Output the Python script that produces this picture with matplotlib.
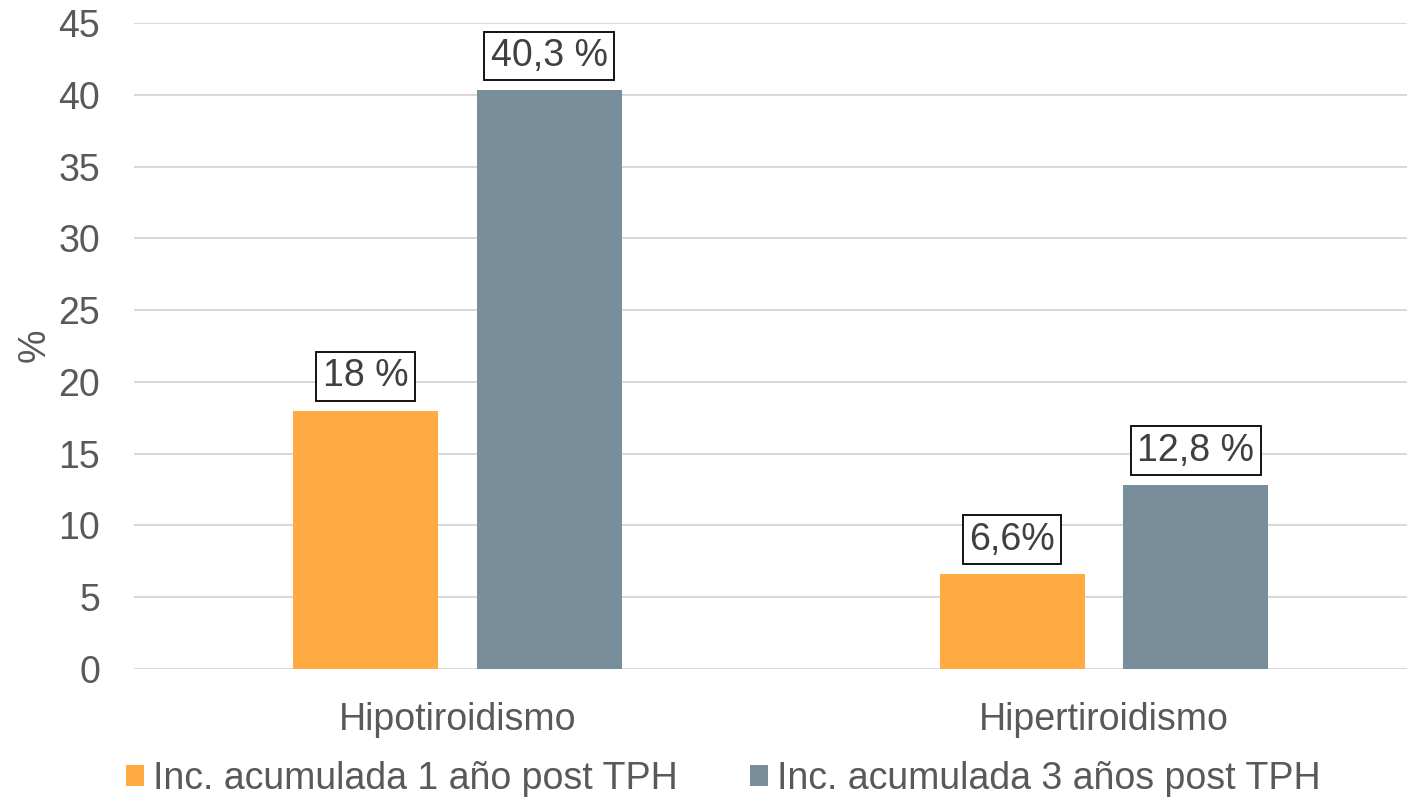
import matplotlib
matplotlib.use("Agg")
import matplotlib.pyplot as plt
from matplotlib.patches import Patch
import numpy as np

# Data
categories = ["Hipotiroidismo", "Hipertiroidismo"]
series_names = ["Inc. acumulada 1 año post TPH", "Inc. acumulada 3 años post TPH"]
inc_1_year = [18.0, 6.6]
inc_3_years = [40.3, 12.8]
labels_1_year = ["18 %", "6,6%"]
labels_3_years = ["40,3 %", "12,8 %"]
y_ticks = [0, 5, 10, 15, 20, 25, 30, 35, 40, 45]

# Style
plt.rcParams["font.family"] = ["Liberation Sans", "DejaVu Sans"]
orange = "#FFAA42"
slate = "#788F9B"
text_grey = "#595959"
label_grey = "#404040"
grid_grey = "#D9D9D9"
fs = 27

W, H = 1407, 799
dpi = 100
fig = plt.figure(figsize=(W / dpi, H / dpi), dpi=dpi)
ax = fig.add_axes([134 / W, (H - 669) / H, (W - 134) / W, (669 - 23) / H])

x = np.arange(len(categories))
bar_w = 0.224
offset = 0.142
b1 = ax.bar(x - offset, inc_1_year, width=bar_w, color=orange, zorder=3)
b2 = ax.bar(x + offset, inc_3_years, width=bar_w, color=slate, zorder=3)

# Value labels in boxes above the bars
for bars, labels in ((b1, labels_1_year), (b2, labels_3_years)):
    for rect, lab in zip(bars, labels):
        ax.annotate(lab, (rect.get_x() + rect.get_width() / 2, rect.get_height()),
                    xytext=(0, 24.8), textcoords="offset points",
                    ha="center", va="center", fontsize=fs, color=label_grey,
                    bbox=dict(boxstyle="square,pad=0.17", fc="white", ec="black", lw=1.3),
                    zorder=5)

ax.set_ylim(0, 45)
ax.set_xlim(-0.5, (W - 457.5) / 646.5)
ax.set_yticks(y_ticks)
ax.set_xticks(x)
ax.set_xticklabels(categories)
ax.tick_params(axis="y", length=0, pad=24.5, labelsize=fs, labelcolor=text_grey)
ax.tick_params(axis="x", length=0, pad=24, labelsize=fs, labelcolor=text_grey)
ax.yaxis.grid(True, color=grid_grey, lw=1.5, zorder=0)
ax.set_axisbelow(True)
for s in ax.spines.values():
    s.set_visible(False)

fig.text(35 / W, 1 - 345 / H, "%", rotation=90, ha="center", va="center",
         fontsize=fs, color=text_grey)

handles = [Patch(facecolor=orange, edgecolor="none"), Patch(facecolor=slate, edgecolor="none")]
fig.legend(handles, series_names, loc="center", bbox_to_anchor=(723 / W, 1 - 779 / H),
           ncol=2, frameon=False, fontsize=fs, labelcolor=text_grey,
           handlelength=0.48, handleheight=0.48, handletextpad=0.24,
           columnspacing=1.92, borderaxespad=0, borderpad=0)

fig.savefig("out.png", dpi=dpi)
